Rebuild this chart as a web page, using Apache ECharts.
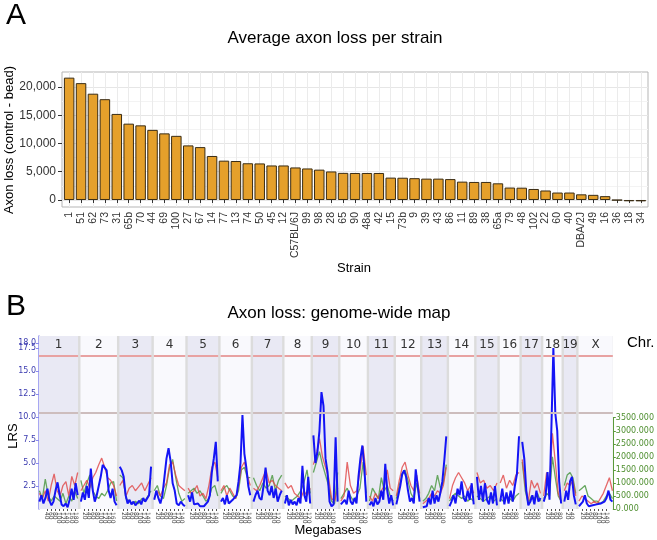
<!DOCTYPE html>
<html><head><meta charset="utf-8">
<script src="https://cdn.jsdelivr.net/npm/echarts@6/dist/echarts.min.js"></script>
<style>html,body{margin:0;padding:0;background:#fff}#c{width:657px;height:540px}</style>
</head><body><div id="c"></div>
<script>
// ---------- Panel A data ----------
const strains = ['1','51','62','73','31','65b','70','44','69','100','27','67','14','77','13','74','50','45','12','C57BL/6J','99','98','28','65','90','48a','42','15','73b','9','39','43','86','11','89','38','65a','79','48','102','22','60','40','DBA/2J','49','16','36','18','34'];
const axonLoss = [21650,20680,18810,17840,15230,13510,13210,12410,11790,11350,9660,9360,7790,6960,6900,6500,6470,6110,6110,5760,5580,5370,5050,4800,4780,4780,4780,3960,3940,3860,3780,3780,3700,3250,3190,3190,2950,2200,2180,1950,1680,1320,1320,1000,910,680,-40,-230,-240];
const axonTicks = [0,5000,10000,15000,20000];
const axonMinorTicks = [2500,7500,12500,17500];

// ---------- Panel B data ----------
const chrNames = ['1','2','3','4','5','6','7','8','9','10','11','12','13','14','15','16','17','18','19','X'];
const chrLengthsMb = [195,182,160,157,152,150,145,130,125,131,122,120,121,125,104,98,95,91,61,171];
const lrsByChr = [
 [0.8,1.5,0.6,1.2,2.2,0.9,0.4,0.8,2.0,2.9,1.6,0.5,0.3,0.6,0.2,1.0,2.2,1.0,2.8,1.5],
 [0.8,1.8,1.0,2.5,1.2,4.4,2.0,0.8,1.5,2.5,3.5,4.8,4.6,4.2,2.0,1.2,2.2,0.8,0.4],
 [4.6,4.2,3.5,1.5,0.6,1.0,0.5,0.8,0.4,0.6,0.9,0.5,1.2,0.8,1.0,1.5,4.6],
 [1.0,2.0,1.2,0.6,1.5,3.5,5.5,6.6,5.2,2.8,2.0,0.6,0.4,0.8,0.5,0.3],
 [1.5,0.8,1.8,0.5,0.4,0.6,0.3,0.5,0.3,0.4,0.8,1.5,4.0,5.5,7.3,3.0],
 [0.8,1.2,0.5,1.5,0.6,0.4,1.0,0.8,1.5,3.0,5.0,10.2,6.0,4.5,2.5,1.5],
 [0.8,1.5,2.0,1.2,1.0,2.5,4.5,2.0,1.5,2.5,1.2,2.2,0.8,1.5,2.0],
 [0.6,1.5,0.4,1.0,0.5,0.8,0.4,1.2,0.6,4.7,1.5,0.8,3.5,0.6],
 [8.0,5.0,6.2,8.5,12.7,11.2,5.5,4.0,0.8,0.3,0.5,7.8,0.8],
 [0.5,0.3,1.0,0.5,2.0,0.8,0.5,1.2,0.6,3.5,5.5,6.9,4.5,0.8],
 [0.4,0.8,0.3,1.2,0.5,0.8,2.0,1.0,4.9,2.0,0.6,1.5,0.4],
 [0.5,1.5,2.5,3.8,4.2,3.5,2.0,0.8,1.2,0.6,4.3,2.5,0.8],
 [0.2,0.4,0.3,1.2,0.5,2.0,0.6,1.5,0.8,1.8,3.0,5.3,7.9],
 [0.3,0.8,1.5,0.6,2.2,1.5,3.0,1.2,0.8,2.0,1.0,2.8,0.5],
 [3.5,1.0,2.5,0.8,2.8,1.0,0.5,1.8,0.6,2.5,0.4],
 [0.8,2.2,0.5,1.8,0.6,2.0,0.8,2.5,3.8,7.9],
 [7.3,5.5,2.0,0.4,0.8,1.5,0.5,2.0,0.8,1.2],
 [0.8,1.5,4.0,1.0,9.0,17.5,10.4,8.5,3.0,0.6],
 [0.8,2.0,1.0,3.0,3.5,1.5,0.5],
 [0.3,0.5,0.8,1.5,0.6,0.3,0.2,0.4,0.3,0.5,0.3,0.6,0.4,0.8,1.2,2.0,1.0,0.8]
];
const redEffectByChr = [
 [600,400,700,300,900,1350,700,500,900,1050,500,1250,900,1400],
 [700,900,1100,800,1200,1400,1700,1950,1600,1200,1100,900,500],
 [900,1100,500,800,900,700,850,1000,700,950,1200],
 [400,700,500,800,1000,1700,1800,1300,900,800,700],
 [800,600,700,900,500,600,400,900,1600,1800,1200],
 [700,900,500,800,600,400,900,1600,1800,1300,900],
 [800,700,900,1200,1500,1000,1100,900,800,700],
 [1000,800,900,600,500,400,700,500,800],
 [1700,2100,2700,2000,1600,1200,400,300,800],
 [300,500,1800,900,600,700,1400,2400,1300],
 [500,300,600,400,700,900,1500,800,700],
 [500,1100,1600,1800,1300,900,700,1300,600],
 [200,300,400,600,500,700,600,900,1600],
 [400,900,1200,1400,1200,1000,700,900,600],
 [1400,1000,1100,800,900,700,1000],
 [1000,1300,800,1100,900,1300,1400],
 [1900,900,300,1100,800,1000,600],
 [500,1400,900,2900,1800,600,300],
 [700,1000,900,1100,500],
 [300,500,400,300,200,300,200,400,600,900,1200,700]
];
const greenEffectByChr = [
 [700,400,1150,500,300,500,400,300,600,200,500,300,700,400],
 [1100,600,1000,1300,700,500,400,600,500,700,1000,1050,300],
 [1300,1200,400,300,200,300,200,400,300,500,700],
 [700,900,500,400,900,1600,1900,1200,600,300,400],
 [600,700,800,600,700,500,300,400,800,900,500],
 [600,800,900,700,500,400,700,1500,1600,1200,1200],
 [1200,900,700,1000,800,900,1300,700,1100,1300],
 [500,400,300,400,500,700,1000,1500,600],
 [1400,1800,2200,1700,1300,900,300,200,1400],
 [400,600,800,500,300,500,800,1800,600],
 [300,800,600,400,1200,700,900,500,300],
 [400,900,1300,1500,1100,600,400,1000,400],
 [300,400,600,900,700,1300,800,1000,1700],
 [300,500,600,500,400,500,300,400,300],
 [500,400,300,400,500,300,400],
 [400,300,500,400,300,500,600],
 [1800,700,200,500,400,600,300],
 [400,600,500,2000,1200,500,300],
 [900,1300,1400,1200,600],
 [700,800,900,500,400,300,300,200,300,500,600,400]
];
const lrsTicks = [2.5,5,7.5,10,12.5,15,17.5];
const lrsTopTick = [18];
const effectTicks = [0,500,1000,1500,2000,2500,3000,3500];
const significantLRS = 16.6;
const suggestiveLRS = 10.5;
const mbLabelStep = 20;

// ---------- build ----------
const gapMb = 12;
const chrStart = [];
let acc = 0;
chrLengthsMb.forEach(L => { chrStart.push(acc); acc += L + gapMb; });
const genomeMax = acc - gapMb;
const lrsMax = 18.8;
const effMax = lrsMax * 3500 / 9.92;

function buildLine(byChr) {
  const out = [];
  byChr.forEach((vals, c) => {
    const s = chrStart[c], L = chrLengthsMb[c], n = vals.length;
    vals.forEach((v, i) => out.push([s + 2 + i * (L - 4) / (n - 1), v]));
    out.push([s + L + gapMb / 2, '-']);
  });
  return out;
}
const mbTickPos = [];
chrLengthsMb.forEach((L, c) => {
  for (let m = mbLabelStep; m <= L - 6; m += mbLabelStep) mbTickPos.push(chrStart[c] + m);
});
function mbLabel(v) {
  for (let c = chrStart.length - 1; c >= 0; c--) if (v >= chrStart[c]) return String(Math.round(v - chrStart[c]));
  return '';
}

const chart = echarts.init(document.getElementById('c'));
const FONT = 'Liberation Sans';
const lrsLabelStyle = {formatter: v => v.toFixed(1), fontSize: 8, color: '#3b3bb0', fontFamily: 'DejaVu Sans', margin: 3, hideOverlap: false};
const option = {
  animation: false,
  grid: [
    {left: 62, top: 72, width: 586, height: 135, show: true, backgroundColor: '#fff', borderColor: '#b5b5b5', borderWidth: 1},
    {left: 39, top: 336, width: 580, height: 173, show: true, backgroundColor: '#dcdcdc', borderWidth: 0}
  ],
  xAxis: [
    {type: 'value', gridIndex: 0, min: 0.4, max: 49.6,
     axisLine: {show: false},
     axisTick: {show: true, length: 3, customValues: strains.map((s, i) => i + 1), lineStyle: {color: '#333'}},
     axisLabel: {customValues: strains.map((s, i) => i + 1), formatter: v => strains[v - 1], rotate: 90, fontSize: 10.5, color: '#333', fontFamily: FONT, margin: 5},
     splitLine: {show: true, lineStyle: {color: '#ebebeb', width: 1}}},
    {type: 'value', gridIndex: 1, min: 0, max: genomeMax,
     axisLine: {show: false},
     axisTick: {show: true, length: 2, customValues: mbTickPos, lineStyle: {color: '#555'}},
     axisLabel: {customValues: mbTickPos, formatter: mbLabel, rotate: -90, fontSize: 6, color: '#444', fontFamily: 'DejaVu Sans', margin: 3},
     splitLine: {show: false}}
  ],
  yAxis: [
    {type: 'value', gridIndex: 0, min: -1240, max: 22650,
     axisLine: {show: false},
     axisTick: {show: true, length: 4, customValues: axonTicks, lineStyle: {color: '#333'}},
     axisLabel: {customValues: axonTicks, formatter: v => v.toLocaleString('en-US'), fontSize: 12, color: '#333', fontFamily: FONT, margin: 6},
     splitLine: {show: true, lineStyle: {color: '#e6e6e6', width: 1}}},
    {type: 'value', gridIndex: 0, min: -1240, max: 22650, position: 'left',
     axisLine: {show: false},
     axisTick: {show: false, customValues: axonMinorTicks},
     axisLabel: {show: false, customValues: axonMinorTicks},
     splitLine: {show: true, lineStyle: {color: '#f3f3f3', width: 1}}},
    {type: 'value', gridIndex: 1, min: 0, max: lrsMax, position: 'left',
     axisLine: {show: true, lineStyle: {color: '#8a8aee', width: 1.5}},
     axisTick: {show: true, length: 3, customValues: lrsTicks, lineStyle: {color: '#8a8aee'}},
     axisLabel: Object.assign({customValues: lrsTicks}, lrsLabelStyle),
     splitLine: {show: false}},
    {type: 'value', gridIndex: 1, min: 0, max: effMax, position: 'right',
     axisLine: {show: false},
     axisTick: {show: true, length: 3, customValues: effectTicks, lineStyle: {color: '#5a9a3a'}},
     axisLabel: {customValues: effectTicks, formatter: v => v.toFixed(3), fontSize: 8, color: '#4f8f30', fontFamily: 'DejaVu Sans', margin: 3},
     splitLine: {show: false}},
    {type: 'value', gridIndex: 1, min: 0, max: lrsMax, position: 'left',
     axisLine: {show: false},
     axisTick: {show: true, length: 3, customValues: lrsTopTick, lineStyle: {color: '#8a8aee'}},
     axisLabel: Object.assign({customValues: lrsTopTick}, lrsLabelStyle),
     splitLine: {show: false}}
  ],
  series: [
    {type: 'bar', xAxisIndex: 0, yAxisIndex: 0, barWidth: 10.5,
     data: strains.map((s, i) => [i + 1, axonLoss[i]]),
     itemStyle: {color: '#E5A02B', borderColor: '#3a2c14', borderWidth: 1}},
    {type: 'line', xAxisIndex: 1, yAxisIndex: 2, z: 0, data: [], silent: true,
     markArea: {silent: true,
       label: {show: true, position: 'insideTop', distance: 3, color: '#333', fontSize: 12, fontFamily: 'DejaVu Sans'},
       data: chrNames.map((n, c) => [
         {name: n, xAxis: chrStart[c], itemStyle: {color: c % 2 === 0 ? '#e9e9f4' : '#f9f9fd'}},
         {xAxis: chrStart[c] + chrLengthsMb[c]}
       ])}},
    {type: 'line', xAxisIndex: 1, yAxisIndex: 2, z: 1, data: [], silent: true,
     markLine: {silent: true, symbol: 'none', label: {show: false},
       data: chrNames.map((n, c) => [
         {coord: [chrStart[c], significantLRS], lineStyle: {color: '#e8a2a2', width: 2, type: 'solid'}},
         {coord: [chrStart[c] + chrLengthsMb[c], significantLRS]}
       ]).concat(chrNames.map((n, c) => [
         {coord: [chrStart[c], suggestiveLRS], lineStyle: {color: '#cdbdbd', width: 2, type: 'solid'}},
         {coord: [chrStart[c] + chrLengthsMb[c], suggestiveLRS]}
       ]))}},
    {type: 'line', xAxisIndex: 1, yAxisIndex: 3, z: 2, symbol: 'none', connectNulls: false,
     data: buildLine(greenEffectByChr), lineStyle: {color: '#4f9a45', width: 1.3, opacity: 0.85},
     markLine: {silent: true, symbol: 'none', label: {show: false},
       data: [[{coord: [genomeMax, 0], lineStyle: {color: '#5a9a3a', width: 1, type: 'solid'}}, {coord: [genomeMax, 3500]}]]}},
    {type: 'line', xAxisIndex: 1, yAxisIndex: 3, z: 3, symbol: 'none', connectNulls: false,
     data: buildLine(redEffectByChr), lineStyle: {color: '#e04545', width: 1.3, opacity: 0.8}},
    {type: 'line', xAxisIndex: 1, yAxisIndex: 2, z: 4, symbol: 'none', connectNulls: false,
     data: buildLine(lrsByChr), lineStyle: {color: '#1414f5', width: 2}}
  ],
  graphic: [
    {type: 'text', x: 6, y: 16, style: {text: 'A', fontSize: 30, fontFamily: FONT, fill: '#000', align: 'left', verticalAlign: 'middle'}},
    {type: 'text', x: 335, y: 38, style: {text: 'Average axon loss per strain', fontSize: 17, fontFamily: FONT, fill: '#000', align: 'center', verticalAlign: 'middle'}},
    {type: 'text', x: 9, y: 140, rotation: Math.PI / 2, style: {text: 'Axon loss (control - bead)', fontSize: 13, fontFamily: FONT, fill: '#000', align: 'center', verticalAlign: 'middle'}},
    {type: 'text', x: 354, y: 268, style: {text: 'Strain', fontSize: 13, fontFamily: FONT, fill: '#000', align: 'center', verticalAlign: 'middle'}},
    {type: 'text', x: 6, y: 307, style: {text: 'B', fontSize: 30, fontFamily: FONT, fill: '#000', align: 'left', verticalAlign: 'middle'}},
    {type: 'text', x: 339, y: 313, style: {text: 'Axon loss: genome-wide map', fontSize: 17, fontFamily: FONT, fill: '#000', align: 'center', verticalAlign: 'middle'}},
    {type: 'text', x: 627, y: 343, style: {text: 'Chr.', fontSize: 15, fontFamily: FONT, fill: '#000', align: 'left', verticalAlign: 'middle'}},
    {type: 'text', x: 13, y: 436, rotation: Math.PI / 2, style: {text: 'LRS', fontSize: 13, fontFamily: FONT, fill: '#000', align: 'center', verticalAlign: 'middle'}},
    {type: 'text', x: 328, y: 530, style: {text: 'Megabases', fontSize: 13, fontFamily: FONT, fill: '#000', align: 'center', verticalAlign: 'middle'}}
  ]
};
chart.setOption(option);
</script>
</body></html>
